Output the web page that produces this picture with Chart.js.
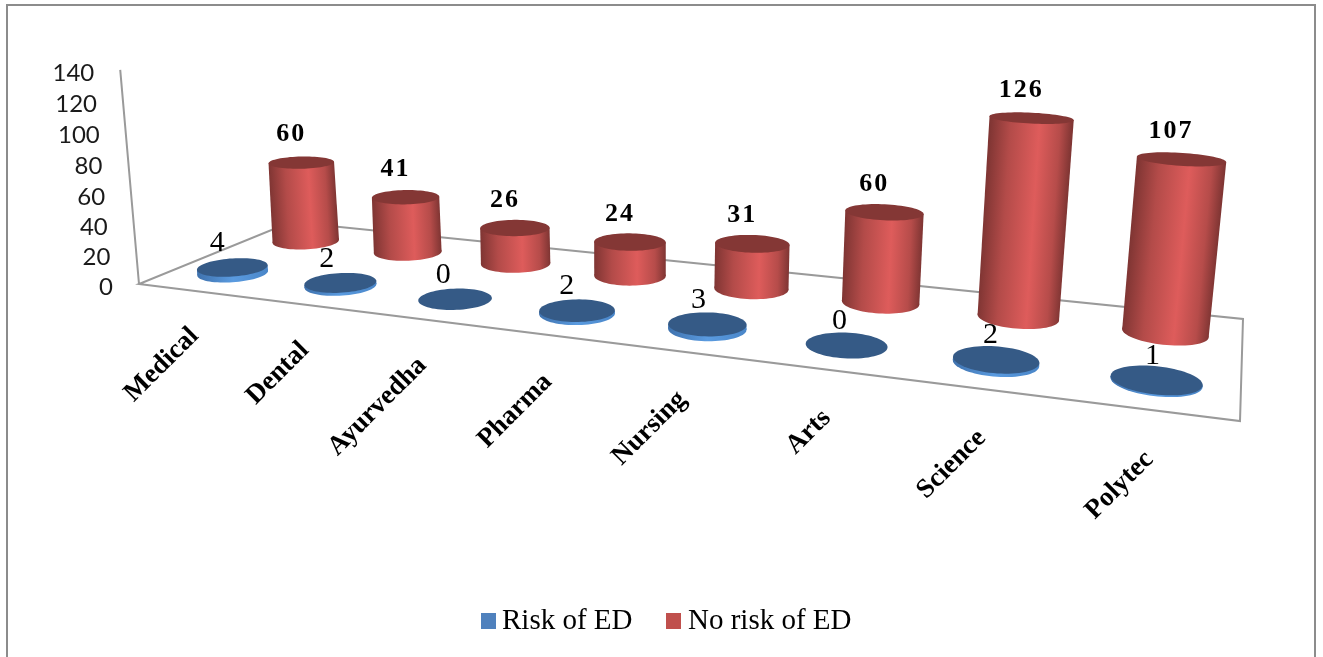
<!DOCTYPE html>
<html>
<head>
<meta charset="utf-8">
<title>Risk of ED by course</title>
<script src="https://cdn.jsdelivr.net/npm/chart.js@4"></script>
<style>
  html, body { margin: 0; background: #fff; }
  canvas { display: block; }
</style>
</head>
<body>
<canvas id="edChart" width="1323" height="657"></canvas>
<script>
const courses = ['Medical', 'Dental', 'Ayurvedha', 'Pharma', 'Nursing', 'Arts', 'Science', 'Polytec'];
const riskOfEd = [4, 2, 0, 2, 3, 0, 2, 1];
const noRiskOfEd = [60, 41, 26, 24, 31, 60, 126, 107];
const yTicks = [0, 20, 40, 60, 80, 100, 120, 140];

// floor corners on screen: front-left, front-right, back-right, back-left
const floor = [[139, 284], [1240, 421], [1243, 319], [291, 222]];

// unit square -> floor quad
const dx1 = floor[1][0] - floor[2][0], dx2 = floor[3][0] - floor[2][0];
const dy1 = floor[1][1] - floor[2][1], dy2 = floor[3][1] - floor[2][1];
const sx = floor[0][0] - floor[1][0] + floor[2][0] - floor[3][0];
const sy = floor[0][1] - floor[1][1] + floor[2][1] - floor[3][1];
const den = dx1 * dy2 - dx2 * dy1;
const g = (sx * dy2 - dx2 * sy) / den;
const h = (dx1 * sy - sx * dy1) / den;
const a = floor[1][0] - floor[0][0] + g * floor[1][0];
const b = floor[3][0] - floor[0][0] + h * floor[3][0];
const d = floor[1][1] - floor[0][1] + g * floor[1][1];
const e = floor[3][1] - floor[0][1] + h * floor[3][1];

// uprights lean towards a vanishing point far below the chart
const vanishX = 640, vanishY = 6000, rise = 0.93;
const c = -1 / (vanishY - 280);

function project(u, v, up) {
  const w = g * u + h * v + 1 + c * up;
  return {
    x: (a * u + b * v + floor[0][0] + c * vanishX * up) / w,
    y: (d * u + e * v + floor[0][1] + c * vanishY * up) / w
  };
}

function ring(u, v, up, ru, rv) {
  const pts = [];
  for (let i = 0; i < 72; i++) {
    const t = i / 72 * Math.PI * 2;
    pts.push(project(u + ru * Math.cos(t), v + rv * Math.sin(t), up));
  }
  return pts;
}

function fillPts(ctx, pts, fill) {
  ctx.beginPath();
  pts.forEach((p, i) => i ? ctx.lineTo(p.x, p.y) : ctx.moveTo(p.x, p.y));
  ctx.closePath();
  ctx.fillStyle = fill;
  ctx.fill();
}

function cylinder(ctx, u, v, up, look) {
  const base = ring(u, v, 0, look.ru, 0.13);
  const top = ring(u, v, up, look.ru, 0.13 * (1 - up * 0.0012));
  if (up > 0) {
    const bx = base.reduce((m, p) => p.x < m.x ? p : m), bX = base.reduce((m, p) => p.x > m.x ? p : m);
    const tx = top.reduce((m, p) => p.x < m.x ? p : m), tX = top.reduce((m, p) => p.x > m.x ? p : m);
    const mid0 = { x: (bx.x + tx.x) / 2, y: (bx.y + tx.y) / 2 };
    const mid1 = { x: (bX.x + tX.x) / 2, y: (bX.y + tX.y) / 2 };
    const cx = (mid0.x + mid1.x) / 2, cy = (mid0.y + mid1.y) / 2;
    const r = (mid1.x - mid0.x) / 2;
    const ax = (tx.x + tX.x - bx.x - bX.x) / 2, ay = (tx.y + tX.y - bx.y - bX.y) / 2;
    const len = Math.hypot(ax, ay);
    const nx = -ay / len, ny = ax / len;
    const grad = ctx.createLinearGradient(cx - nx * r, cy - ny * r, cx + nx * r, cy + ny * r);
    look.stops.forEach(s => grad.addColorStop(s[0], s[1]));
    fillPts(ctx, base, grad);
    fillPts(ctx, [bx, tx, tX, bX], grad);
  }
  fillPts(ctx, top, look.cap);
}

const redLook = {
  ru: 0.0355,
  cap: '#843735',
  stops: [[0, '#7f3533'], [0.25, '#b34b49'], [0.6, '#de5c5b'], [0.85, '#b64c4a'], [1, '#7f3533']]
};
const blueLook = {
  ru: 0.0345,
  cap: '#355a86',
  stops: [[0, '#3f72ae'], [0.5, '#5a9be0'], [1, '#4a86c8']]
};

const scene3d = {
  id: 'scene3d',
  beforeDatasetsDraw(chart) {
    const { ctx, scales: { x, y } } = chart;
    const uAt = i => (x.getPixelForValue(i) - x.left) / x.width;
    const upAt = val => (y.getPixelForValue(0) - y.getPixelForValue(val)) * rise;
    const wallUp = val => (y.getPixelForValue(0) - y.getPixelForValue(val)) * 0.97;

    ctx.save();
    // outer frame, open at the bottom
    ctx.strokeStyle = '#8c8c8c';
    ctx.lineWidth = 2;
    ctx.beginPath();
    ctx.moveTo(7, 657); ctx.lineTo(7, 5); ctx.lineTo(1315, 5); ctx.lineTo(1315, 657);
    ctx.stroke();

    // floor and upright axis
    ctx.strokeStyle = '#9a9a9a';
    ctx.beginPath();
    floor.forEach((p, i) => i ? ctx.lineTo(p[0], p[1]) : ctx.moveTo(p[0], p[1]));
    ctx.closePath();
    const axisTop = project(0, 0, wallUp(140));
    ctx.moveTo(floor[0][0], floor[0][1]);
    ctx.lineTo(axisTop.x, axisTop.y);
    ctx.stroke();

    // y tick labels follow the leaning axis
    ctx.fillStyle = '#1a1a1a';
    ctx.font = '24px Lato';
    ctx.textAlign = 'right';
    ctx.textBaseline = 'middle';
    yTicks.forEach(t => {
      const p = project(0, 0, wallUp(t));
      ctx.fillText(String(t), p.x - 26, p.y + 3);
    });

    // back row, then front row
    noRiskOfEd.forEach((val, i) => cylinder(ctx, uAt(i), 0.75, upAt(val), redLook));
    riskOfEd.forEach((val, i) => cylinder(ctx, uAt(i), 0.25, upAt(val), blueLook));

    // value labels
    ctx.textAlign = 'center';
    ctx.textBaseline = 'middle';
    ctx.fillStyle = '#000';
    ctx.font = 'bold 26px "Liberation Serif"';
    ctx.letterSpacing = '2px';
    noRiskOfEd.forEach((val, i) => {
      const p = project(uAt(i), 0.75, upAt(val));
      ctx.fillText(String(val), p.x - 10, p.y - 28);
    });
    ctx.font = '30px "Liberation Serif"';
    ctx.letterSpacing = '0px';
    riskOfEd.forEach((val, i) => {
      const p = project(uAt(i), 0.25, upAt(val));
      ctx.fillText(String(val), p.x - 16 + 13 * uAt(i), p.y - 24);
    });

    // category labels under the front edge
    ctx.font = 'bold 27px "Liberation Serif"';
    ctx.textAlign = 'right';
    courses.forEach((name, i) => {
      const u = uAt(i);
      const p = project(u, 0, 0);
      ctx.save();
      ctx.translate(p.x + 3 - 5 * u, p.y + 41 + 5 * u);
      ctx.rotate(-Math.PI / 4);
      ctx.fillText(name, 0, 0);
      ctx.restore();
    });

    // legend row
    ctx.font = '29px "Liberation Serif"';
    ctx.textAlign = 'left';
    const legendRow = [[481, 502], [666, 688]];
    chart.data.datasets.forEach((ds, i) => {
      ctx.fillStyle = ds.backgroundColor;
      ctx.fillRect(legendRow[i][0], 613, 15, 16);
      ctx.fillStyle = '#000';
      ctx.fillText(ds.label, legendRow[i][1], 621);
    });
    ctx.restore();
    return false;
  }
};

new Chart(document.getElementById('edChart').getContext('2d'), {
  type: 'bar',
  data: {
    labels: courses,
    datasets: [
      { label: 'Risk of ED', data: riskOfEd, backgroundColor: '#4f81bd' },
      { label: 'No risk of ED', data: noRiskOfEd, backgroundColor: '#c0504d' }
    ]
  },
  options: {
    responsive: false,
    animation: false,
    layout: { padding: { left: 139, right: 83, top: 71, bottom: 373 } },
    plugins: { legend: { display: false }, tooltip: { enabled: false } },
    scales: {
      x: { display: false },
      y: { display: false, min: 0, max: 140 }
    }
  },
  plugins: [scene3d]
});
</script>
</body>
</html>
